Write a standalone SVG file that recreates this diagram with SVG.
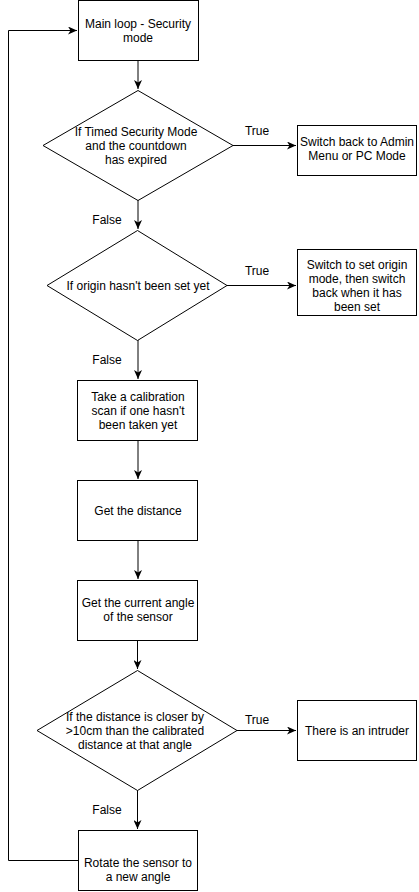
<svg xmlns="http://www.w3.org/2000/svg" width="419" height="892" viewBox="0 0 419 892">
<style>
.n{fill:#fff;stroke:#000;stroke-width:1}
.t{font-family:"Liberation Sans",Arial,sans-serif;font-size:12px;fill:#000;text-anchor:middle}
.c{fill:none;stroke:#000;stroke-width:1}
</style>
<defs>
<marker id="a" markerWidth="10" markerHeight="8" refX="9" refY="4" orient="auto" markerUnits="userSpaceOnUse">
<path d="M0,0 L9,4 L0,8 L2.5,4 Z" fill="#000"/>
</marker>
</defs>
<rect width="419" height="892" fill="#fff"/>
<g id="connectors">
<path class="c" d="M138,60 V89" marker-end="url(#a)"/>
<path class="c" d="M233,145.5 H296" marker-end="url(#a)"/>
<path class="c" d="M138,200 V229" marker-end="url(#a)"/>
<path class="c" d="M227,285.5 H296" marker-end="url(#a)"/>
<path class="c" d="M138,340 V379" marker-end="url(#a)"/>
<path class="c" d="M138,440 V479" marker-end="url(#a)"/>
<path class="c" d="M138,540 V579" marker-end="url(#a)"/>
<path class="c" d="M137.5,640 V669" marker-end="url(#a)"/>
<path class="c" d="M237,730.5 H296" marker-end="url(#a)"/>
<path class="c" d="M137.5,790 V829" marker-end="url(#a)"/>
<path class="c" d="M78,860.5 H8.5 V30.5 H77" marker-end="url(#a)"/>
<text class="t" x="257" y="135">True</text>
<text class="t" x="107" y="224">False</text>
<text class="t" x="257" y="275">True</text>
<text class="t" x="107" y="364">False</text>
<text class="t" x="257" y="724">True</text>
<text class="t" x="107" y="814">False</text>
</g>
<g id="main">
<rect class="n" x="78.5" y="0.5" width="120" height="60"/>
<text class="t" x="138" y="28">Main loop - Security</text>
<text class="t" x="138" y="42">mode</text>
</g>
<g id="d1">
<path class="n" d="M138,90.5 L233,145.5 L138,200.5 L43,145.5 Z"/>
<text class="t" x="136" y="136">If Timed Security Mode</text>
<text class="t" x="136" y="150">and the countdown</text>
<text class="t" x="136" y="164">has expired</text>
</g>
<g id="admin">
<rect class="n" x="297.5" y="125.5" width="119" height="50"/>
<text class="t" x="357" y="146">Switch back to Admin</text>
<text class="t" x="357" y="160">Menu or PC Mode</text>
</g>
<g id="d2">
<path class="n" d="M137.5,230.5 L227,285.5 L137.5,340.5 L47,285.5 Z"/>
<text class="t" x="138" y="290">If origin hasn't been set yet</text>
</g>
<g id="origin">
<rect class="n" x="297.5" y="249.5" width="119" height="66"/>
<text class="t" x="357" y="269">Switch to set origin</text>
<text class="t" x="357" y="283">mode, then switch</text>
<text class="t" x="357" y="297">back when it has</text>
<text class="t" x="357" y="311">been set</text>
</g>
<g id="calib">
<rect class="n" x="77.5" y="380.5" width="120" height="60"/>
<text class="t" x="138" y="401">Take a calibration</text>
<text class="t" x="138" y="415">scan if one hasn't</text>
<text class="t" x="138" y="429">been taken yet</text>
</g>
<g id="dist">
<rect class="n" x="77.5" y="480.5" width="120" height="60"/>
<text class="t" x="138" y="515">Get the distance</text>
</g>
<g id="angle">
<rect class="n" x="77.5" y="580.5" width="120" height="60"/>
<text class="t" x="138" y="607">Get the current angle</text>
<text class="t" x="138" y="621">of the sensor</text>
</g>
<g id="d3">
<path class="n" d="M137.5,670.5 L237,730.5 L137.5,790.5 L37,730.5 Z"/>
<text class="t" x="135" y="721">If the distance is closer by</text>
<text class="t" x="135" y="735">&gt;10cm than the calibrated</text>
<text class="t" x="135" y="749">distance at that angle</text>
</g>
<g id="intruder">
<rect class="n" x="297.5" y="700.5" width="119" height="60"/>
<text class="t" x="357" y="735">There is an intruder</text>
</g>
<g id="rotate">
<rect class="n" x="78.5" y="830.5" width="119" height="60"/>
<text class="t" x="138" y="867">Rotate the sensor to</text>
<text class="t" x="138" y="881">a new angle</text>
</g>
</svg>
